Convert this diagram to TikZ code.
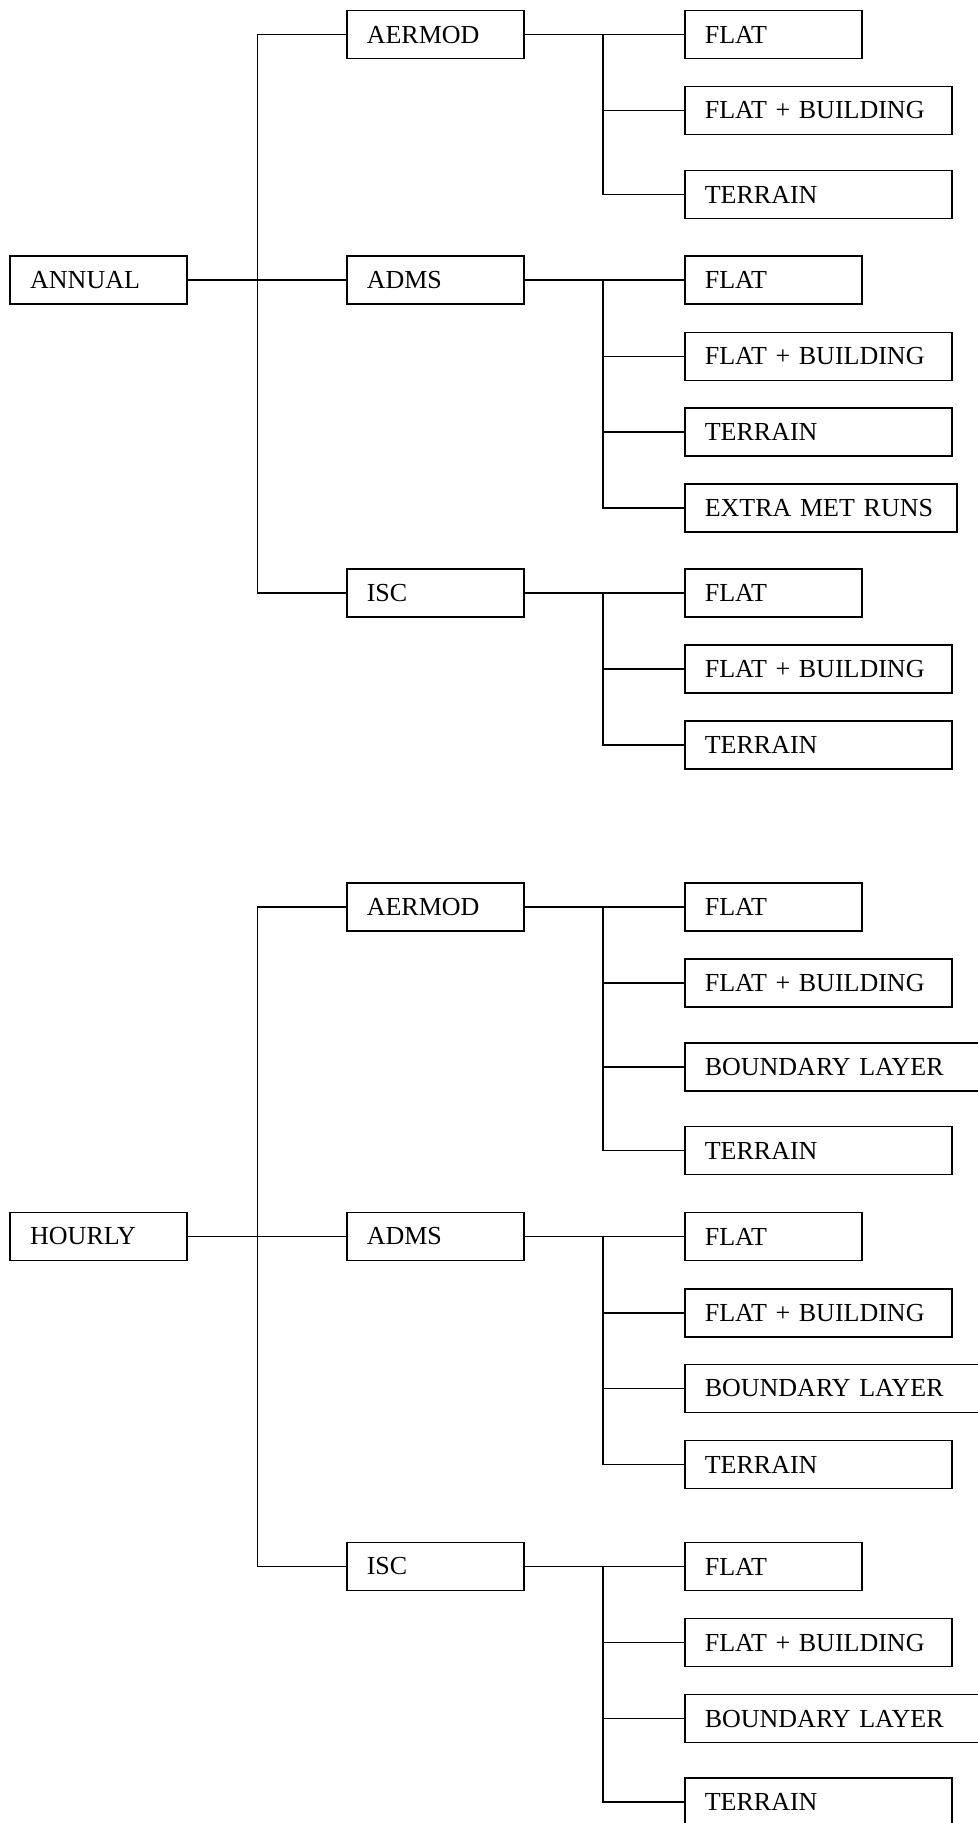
\documentclass[tikz,border=0pt]{standalone}
\usepackage{fontspec}
\setmainfont{Liberation Serif}
\usepackage{tikz}
\usetikzlibrary{positioning, calc}

\begin{document}
\begin{tikzpicture}[x=0.5pt, y=-0.5pt,
          bx/.style={draw, rectangle, anchor=west, line width=0.8pt,
                     minimum height=24pt, inner xsep=10pt, align=left,
                     font=\fontsize{13}{15}\selectfont},
          bxs/.style={bx, text width=68.5pt},
          bxw/.style={bx, text width=113.5pt},
          bxx/.style={bx, text width=116pt},
          bxl/.style={bx, text width=130pt},
          ln/.style={draw, line width=0.8pt}
        ]
        \useasboundingbox (0,0) rectangle (978,1823);

        % trunks
        \coordinate (tr) at (257.6,0);
        \coordinate (st) at (603,0);

        % ---- annual
        \node[bxs] (ann)  at (9.4,280)  {ANNUAL};
        \node[bxs] (aer1) at (346,34.7) {AERMOD};
        \node[bxs] (adm1) at (346,280)  {ADMS};
        \node[bxs] (isc1) at (346,593)  {ISC};

        \node[bxs] (aer1a) at (684,34.7)  {FLAT};
        \node[bxw] (aer1b) at (684,110.5) {FLAT + BUILDING};
        \node[bxw] (aer1c) at (684,194.5) {TERRAIN};

        \node[bxs] (adm1a) at (684,280)   {FLAT};
        \node[bxw] (adm1b) at (684,356.5) {FLAT + BUILDING};
        \node[bxw] (adm1c) at (684,432)   {TERRAIN};
        \node[bxx] (adm1d) at (684,508)   {EXTRA MET RUNS};

        \node[bxs] (isc1a) at (684,593)   {FLAT};
        \node[bxw] (isc1b) at (684,669)   {FLAT + BUILDING};
        \node[bxw] (isc1c) at (684,745)   {TERRAIN};

        % ---- hourly
        \node[bxs] (hour) at (9.4,1236.5) {HOURLY};
        \node[bxs] (aer2) at (346,907)    {AERMOD};
        \node[bxs] (adm2) at (346,1236.5) {ADMS};
        \node[bxs] (isc2) at (346,1566.5) {ISC};

        \node[bxs] (aer2a) at (684,907)    {FLAT};
        \node[bxw] (aer2b) at (684,983)    {FLAT + BUILDING};
        \node[bxl] (aer2c) at (684,1067)   {BOUNDARY LAYER};
        \node[bxw] (aer2d) at (684,1150.5) {TERRAIN};

        \node[bxs] (adm2a) at (684,1236.5) {FLAT};
        \node[bxw] (adm2b) at (684,1313)   {FLAT + BUILDING};
        \node[bxl] (adm2c) at (684,1388.5) {BOUNDARY LAYER};
        \node[bxw] (adm2d) at (684,1464.5) {TERRAIN};

        \node[bxs] (isc2a) at (684,1566.5) {FLAT};
        \node[bxw] (isc2b) at (684,1642.5) {FLAT + BUILDING};
        \node[bxl] (isc2c) at (684,1718.5) {BOUNDARY LAYER};
        \node[bxw] (isc2d) at (684,1802)   {TERRAIN};

        % connectors, root to models
        \draw[ln] (ann.east) -- (adm1.west);
        \draw[ln] (aer1.west) -- (aer1.west -| tr) |- (isc1.west);
        \draw[ln] (hour.east) -- (adm2.west);
        \draw[ln] (aer2.west) -- (aer2.west -| tr) |- (isc2.west);

        % models to runs
        \foreach \m/\l in {aer1/aer1c, adm1/adm1d, isc1/isc1c,
                           aer2/aer2d, adm2/adm2d, isc2/isc2d}{
          \draw[ln] (\m.east) -- (\m a.west);
          \draw[ln] (\m a.west -| st) |- (\l.west);
        }
        \foreach \c in {aer1b, adm1b, adm1c, isc1b,
                        aer2b, aer2c, adm2b, adm2c, isc2b, isc2c}{
          \draw[ln] (\c.west -| st) -- (\c.west);
        }
      \end{tikzpicture}
\end{document}
